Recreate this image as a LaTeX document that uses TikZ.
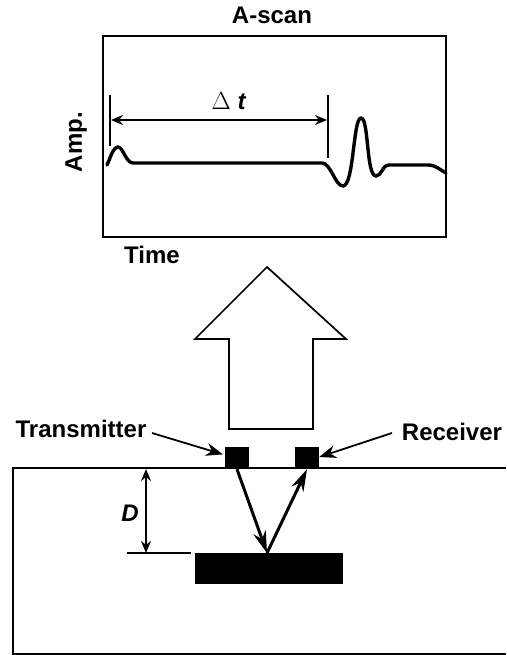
\documentclass[tikz,border=0pt]{standalone}
\usepackage{fontspec}
\setmainfont{Liberation Sans}
\usepackage{tikz}
\usetikzlibrary{arrows.meta, positioning}
\tikzset{
    label/.style={font=\bfseries\fontsize{24}{26}\selectfont, inner sep=0pt},
    block/.style={fill=black, draw=none, inner sep=0pt},
    pointer/.style={-{Stealth[length=17pt,width=13pt]}, line width=1.8pt},
    ray/.style={-{Stealth[length=22pt,width=13pt]}, line width=3pt},
    span/.style={{Stealth[length=12pt,width=10pt]}-{Stealth[length=12pt,width=10pt]}, line width=1.5pt},
    marker/.style={line width=1.6pt},
}
\begin{document}
\begin{tikzpicture}[x=1pt, y=-1pt]
    \useasboundingbox (0, 0) rectangle (506, 655);

    % A-scan
    \node[label] (title) at (272, 15) {A-scan};
    \node[draw, line width=1.8pt, minimum width=343pt, minimum height=201pt, inner sep=0pt] (plot) at (274.5, 136.5) {};
    \node[label] (time) at (152, 255) {Time};
    \node[label, rotate=90] (amp) at (76, 142) {Amp.};

    % Signal
    \draw[line width=3.4pt, line cap=round, line join=round] (107, 165)
        .. controls (110, 159) and (113, 147) .. (118, 147)
        .. controls (123, 147) and (126, 163) .. (133, 163)
        -- (322, 163)
        .. controls (331, 163) and (335, 186) .. (343, 186)
        .. controls (354, 186) and (353, 118) .. (361, 118)
        .. controls (369, 118) and (366, 176) .. (376, 176)
        .. controls (382, 176) and (382, 165) .. (389, 165)
        -- (428, 165)
        .. controls (436, 165) and (440, 170) .. (446, 173);

    % Delta t
    \coordinate (m1top) at (110, 95);
    \coordinate (m1bot) at (110, 146);
    \coordinate (m2top) at (328, 95);
    \coordinate (m2bot) at (328, 158);
    \coordinate (dtl) at (111, 120);
    \coordinate (dtr) at (327, 120);
    \draw[marker] (m1top) -- (m1bot);
    \draw[marker] (m2top) -- (m2bot);
    \draw[span] (dtl) -- (dtr);
    \node[font=\fontsize{24}{26}\selectfont, inner sep=0pt] (dt) at (229, 101) {$\Delta$ \textbf{\textit{t}}};

    % Big arrow
    \draw[line width=1.7pt, line join=miter] (229, 429) -- (229, 339) -- (195, 339) -- (267, 267)
        -- (346, 339) -- (313, 339) -- (313, 429) -- cycle;

    % Ground
    \draw[line width=2.3pt] (506, 468) -- (13, 468) -- (13, 654) -- (506, 654);

    % Probes and reflector
    \node[block, minimum width=24pt, minimum height=22pt] (trans) at (237, 458) {};
    \node[block, minimum width=24pt, minimum height=22pt] (recv) at (307, 458) {};
    \node[block, minimum width=148pt, minimum height=31pt] (refl) at (269, 568.5) {};
    \node[label] (tlabel) at (81, 429) {Transmitter};
    \node[label] (rlabel) at (452, 432) {Receiver};
    \coordinate (tstart) at (152, 433);
    \coordinate (rstart) at (392, 433);
    \draw[pointer, shorten >=2pt] (tstart) -- ([yshift=3pt]trans.west);
    \draw[pointer, shorten >=0pt] (rstart) -- ([yshift=1pt]recv.east);

    % Rays
    \coordinate (hit) at (267, 553);
    \draw[ray] (trans.south) -- (hit);
    \draw[ray] (hit) -- (recv.south);

    % Depth
    \coordinate (dtop) at (146, 469);
    \coordinate (dbot) at (146, 553);
    \coordinate (dline) at (127, 553);
    \coordinate (dlineend) at (191, 553);
    \draw[span] (dtop) -- (dbot);
    \draw[marker] (dline) -- (dlineend);
    \node[font=\bfseries\itshape\fontsize{24}{26}\selectfont, inner sep=0pt] (depth) at (130, 513) {D};
\end{tikzpicture}
\end{document}
